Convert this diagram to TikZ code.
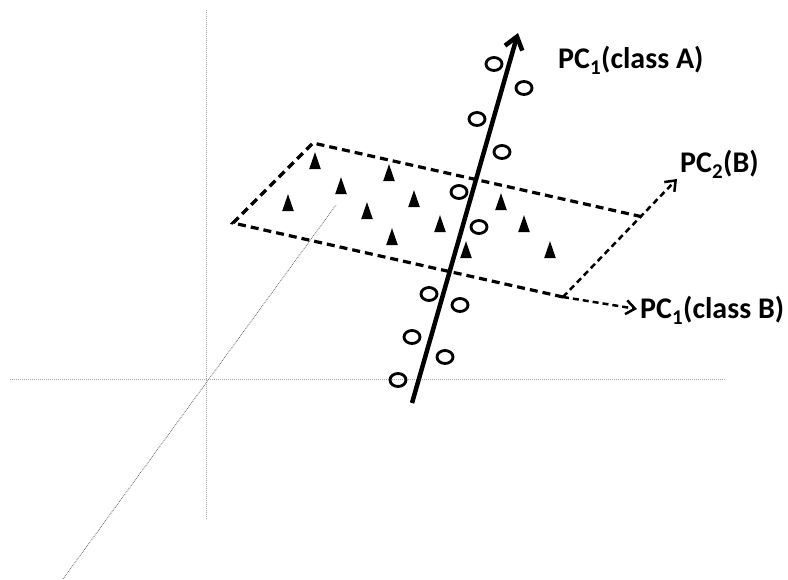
\documentclass[tikz,border=0pt]{standalone}
\usepackage{fontspec}
\setmainfont{Carlito}
\usetikzlibrary{shapes.geometric, arrows.meta}
\tikzset{
  axis/.style={gray!70, densely dotted, line width=1pt},
  depth/.style={gray!80!black, densely dotted, line width=0.8pt},
  plane/.style={dash pattern=on 8pt off 5pt, line width=3.2pt},
  pcarrow/.style={-{Straight Barb[length=12pt, width=18pt]}, line width=4.5pt},
  pcdash/.style={-{Straight Barb[length=9pt, width=14pt]}, dash pattern=on 6pt off 4pt, line width=2.5pt},
  pointA/.style={ellipse, draw, line width=2.8pt, minimum width=16pt, minimum height=13pt, inner sep=0pt},
  pointB/.style={isosceles triangle, shape border rotate=90, isosceles triangle apex angle=38, fill=black, inner sep=0pt, minimum height=17pt},
  pclabel/.style={anchor=base west, inner sep=0pt, font=\fontsize{30}{34}\selectfont\bfseries},
}

\begin{document}
\begin{tikzpicture}[x=1pt, y=-1pt]
\useasboundingbox (0,0) rectangle (788,580);
\coordinate (xl) at (10,380);
\coordinate (xr) at (725,380);
\coordinate (yt) at (206,10);
\coordinate (yb) at (206,520);
\coordinate (zf) at (63,579);
\coordinate (zb) at (336,205);
\draw[axis] (xl) -- (xr);
\draw[axis] (yt) -- (yb);
\draw[depth] (zf) -- (zb);
\coordinate (tl) at (313,143);
\coordinate (lf) at (233,223);
\coordinate (br) at (563,297);
\coordinate (rt) at (643,217);
\coordinate (pc2tip) at (677,179);
\coordinate (pc1btip) at (637,309);
\draw[plane] (br) -- (lf) -- (tl) -- (rt);
\draw[pcdash] (br) -- (pc2tip);
\draw[pcdash] (br) -- (pc1btip);
\foreach \x/\y [count=\i] in {315/165, 341/190, 288/207, 389/177, 367/215, 414/203,
  392/241, 440/228, 466/254, 501/206, 524/228, 550/254}
  \node[pointB] (b\i) at (\x,\y) {};
\foreach \x/\y [count=\i] in {494/64, 524/88, 477/119, 502/152, 459/192, 479/227,
  429/294, 460/305, 412/337, 445/357, 398/380}
  \node[pointA] (a\i) at (\x,\y) {};
\coordinate (pc1a) at (412,403);
\coordinate (pc1atip) at (518,33);
\draw[pcarrow] (pc1a) -- (pc1atip);
\node[pclabel] (labA) at (558,69) {PC\textsubscript{1}(class A)};
\node[pclabel] (labB) at (640,319) {PC\textsubscript{1}(class B)};
\node[pclabel] (lab2) at (680,173) {PC\textsubscript{2}(B)};
\end{tikzpicture}
\end{document}
